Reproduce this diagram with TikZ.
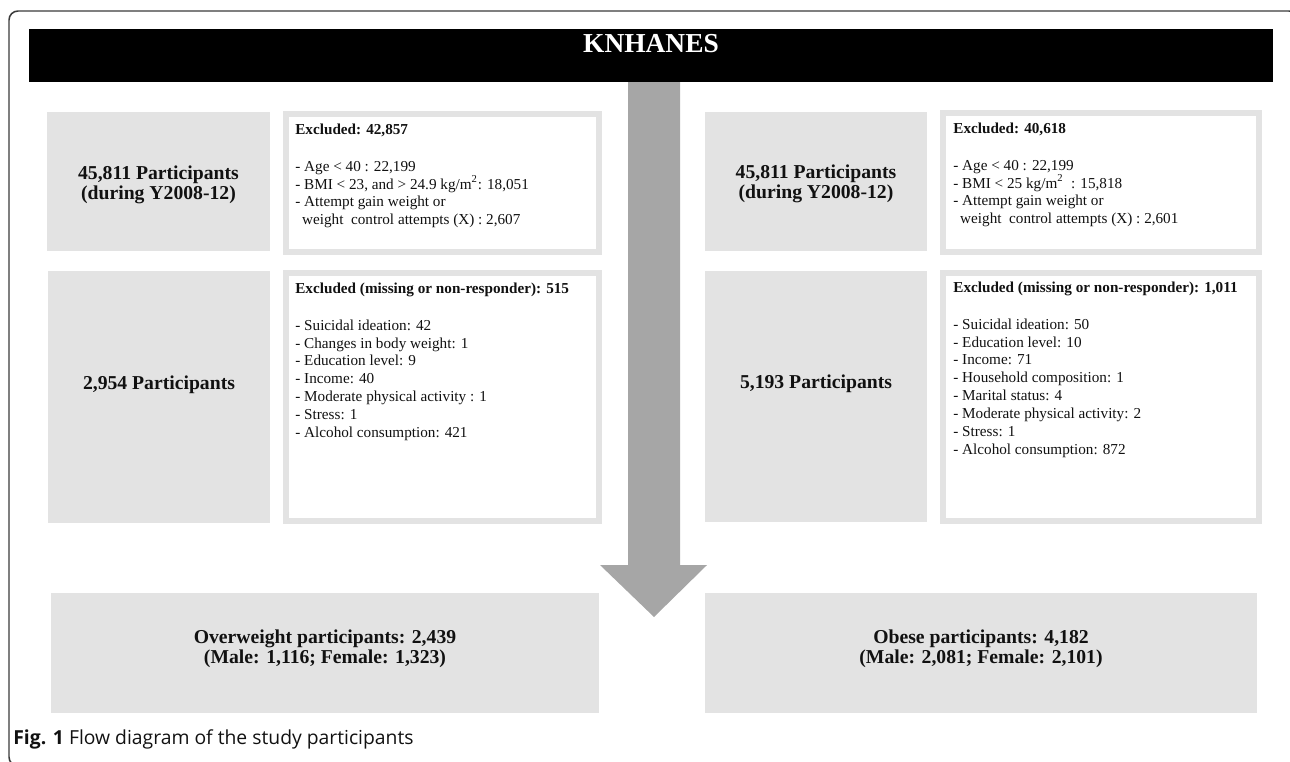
\documentclass[tikz,border=0pt]{standalone}
\usepackage{fontspec}
\setmainfont{Liberation Serif}
\newfontfamily\capfont{Open Sans}
\usetikzlibrary{fit}
\definecolor{ink}{HTML}{111111}
\definecolor{frameline}{HTML}{3A3A3A}
\definecolor{boxgray}{HTML}{E3E3E3}
\definecolor{arrowgray}{HTML}{A6A6A6}
\tikzset{
  basebox/.style={inner sep=0pt,align=center,text=ink},
  graybox/.style={basebox,fill=boxgray},
  graytext/.style={basebox,font=\fontsize{11.2}{11.2}\selectfont\bfseries},
  exclbox/.style={basebox,draw=boxgray,line width=0.12cm,fill=white},
  excltext/.style={anchor=north west,inner sep=0pt,align=left,text=ink,font=\fontsize{8.65}{10.2}\selectfont},
  titlebar/.style={basebox,fill=black},
  titletext/.style={anchor=base,inner sep=0pt,text=white,font=\fontsize{15.6}{18}\selectfont\bfseries},
  bigarrow/.style={fill=arrowgray},
  frame/.style={draw=frameline,line width=0.85pt,rounded corners=0.18cm}
}

\begin{document}
\begin{tikzpicture}[x=0.02cm,y=-0.02cm]
  \useasboundingbox (0,0) rectangle (1290,761);
  \clip (0,0) rectangle (1290,761);
  % frame, title bar, arrow
  \draw[frame] (40,766) -- (9,766) -- (9,11) -- (1298,11) -- (1298,40);
  \node[titlebar,fit={(29,29) (1273,82)}] (knhanes) {};
  \node[titletext] (knhanestxt) at (651,52) {KNHANES};
  \fill[bigarrow] (628,82) -- (680,82) -- (680,565) -- (707,565) -- (654,617) -- (600,565) -- (628,565) -- cycle;

  % left column
  \node[graybox,fit={(47,112) (270,251)}] (popL) {};
  \node[graytext] (popLtxt) at (158.5,185) {45,811 Participants\\(during Y2008-12)};
  \node[exclbox,fit={(286,114) (599,252)}] (exclL) {};
  \node[excltext] (exclLtxt) at (295,124) {\textbf{Excluded: 42,857}\\[10.4pt]
    - Age < 40 : 22,199\\
    - BMI < 23, and > 24.9 kg/m\textsuperscript{2}: 18,051\\
    - Attempt gain weight or\\
    \hspace{0.45em}weight\ \ control attempts (X) : 2,607};

  \node[graybox,fit={(48,271) (270,523)}] (partL) {};
  \node[graytext] (partLtxt) at (159,385) {2,954 Participants};
  \node[exclbox,fit={(286,273) (599,521)}] (missL) {};
  \node[excltext] (missLtxt) at (295,283) {\textbf{Excluded (missing or non-responder): 515}\\[10.4pt]
    - Suicidal ideation: 42\\
    - Changes in body weight: 1\\
    - Education level: 9\\
    - Income: 40\\
    - Moderate physical activity : 1\\
    - Stress: 1\\
    - Alcohol consumption: 421};

  \node[graybox,fit={(51,593) (599,713)}] (overw) {};
  \node[graytext] (overwtxt) at (325,649) {Overweight participants: 2,439\\(Male: 1,116; Female: 1,323)};

  % right column
  \node[graybox,fit={(705,112) (927,251)}] (popR) {};
  \node[graytext] (popRtxt) at (816,184) {45,811 Participants\\(during Y2008-12)};
  \node[exclbox,fit={(943,113) (1259,252)}] (exclR) {};
  \node[excltext] (exclRtxt) at (953,123) {\textbf{Excluded: 40,618}\\[10.4pt]
    - Age < 40 : 22,199\\
    - BMI < 25 kg/m\textsuperscript{2}\ \ : 15,818\\
    - Attempt gain weight or\\
    \hspace{0.45em}weight\ \ control attempts (X) : 2,601};

  \node[graybox,fit={(705,271) (927,522)}] (partR) {};
  \node[graytext] (partRtxt) at (816,384) {5,193 Participants};
  \node[exclbox,fit={(943,273) (1259,521)}] (missR) {};
  \node[excltext] (missRtxt) at (953,282) {\textbf{Excluded (missing or non-responder): 1,011}\\[10.4pt]
    - Suicidal ideation: 50\\
    - Education level: 10\\
    - Income: 71\\
    - Household composition: 1\\
    - Marital status: 4\\
    - Moderate physical activity: 2\\
    - Stress: 1\\
    - Alcohol consumption: 872};

  \node[graybox,fit={(705,593) (1257,713)}] (obese) {};
  \node[graytext] (obesetxt) at (981,649) {Obese participants: 4,182\\(Male: 2,081; Female: 2,101)};

  % caption
  \node[anchor=west,inner sep=0pt,text=ink,font=\capfont\fontsize{11}{12}\selectfont] (caption) at (13,739) {\textbf{Fig. 1} Flow diagram of the study participants};
\end{tikzpicture}
\end{document}
